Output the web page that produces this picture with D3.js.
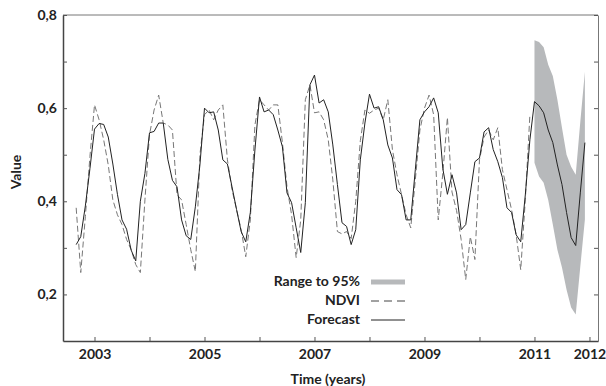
<!DOCTYPE html>
<html>
<head>
<meta charset="utf-8">
<script src="https://cdn.jsdelivr.net/npm/d3@7"></script>
<style>
  body { margin: 0; background: #fff; }
  svg text { font-family: Lato, "Open Sans", sans-serif; font-weight: 700; fill: #222; }
</style>
</head>
<body>
<div id="chart"></div>
<script>
// monthly series, first value = Sep 2002
const ndviStart = 2002 + 8 / 12;
const ndvi = [
  0.386, 0.247, 0.367, 0.496, 0.607, 0.575, 0.532, 0.478, 0.403, 0.371,
  0.350, 0.318, 0.296, 0.264, 0.247, 0.403, 0.543, 0.596, 0.628, 0.568,
  0.564, 0.553, 0.414, 0.403, 0.350, 0.296, 0.249, 0.500, 0.586, 0.596,
  0.575, 0.596, 0.607, 0.489, 0.425, 0.382, 0.339, 0.281, 0.360, 0.564,
  0.618, 0.607, 0.596, 0.607, 0.607, 0.526, 0.431, 0.371, 0.279, 0.360,
  0.618, 0.650, 0.590, 0.592, 0.575, 0.532, 0.446, 0.335, 0.330, 0.335,
  0.320, 0.400, 0.530, 0.596, 0.589, 0.596, 0.600, 0.575, 0.618, 0.511,
  0.457, 0.414, 0.371, 0.343, 0.446, 0.553, 0.600, 0.628, 0.586, 0.360,
  0.460, 0.580, 0.420, 0.380, 0.318, 0.232, 0.324, 0.275, 0.489, 0.538,
  0.553, 0.532, 0.558, 0.468, 0.425, 0.382, 0.328, 0.253, 0.403, 0.586
];
const fitted = [
  0.307, 0.324, 0.390, 0.470, 0.555, 0.567, 0.565, 0.538, 0.480, 0.415,
  0.360, 0.340, 0.295, 0.272, 0.400, 0.460, 0.547, 0.550, 0.568, 0.568,
  0.490, 0.445, 0.431, 0.360, 0.326, 0.318, 0.388, 0.478, 0.600, 0.590,
  0.592, 0.553, 0.489, 0.480, 0.431, 0.382, 0.335, 0.313, 0.376, 0.510,
  0.624, 0.592, 0.596, 0.586, 0.553, 0.517, 0.418, 0.397, 0.343, 0.290,
  0.397, 0.650, 0.671, 0.611, 0.618, 0.592, 0.521, 0.436, 0.354, 0.346,
  0.307, 0.339, 0.489, 0.568, 0.630, 0.600, 0.603, 0.575, 0.521, 0.493,
  0.425, 0.414, 0.360, 0.360, 0.468, 0.575, 0.592, 0.603, 0.622, 0.590,
  0.470, 0.415, 0.457, 0.418, 0.339, 0.350, 0.418, 0.485, 0.493, 0.549,
  0.558, 0.511, 0.485, 0.451, 0.386, 0.376, 0.328, 0.313, 0.414, 0.532
];

// forecast from Jan 2011
const forecastStart = 2011;
const forecast = [0.614, 0.605, 0.590, 0.553, 0.526, 0.478, 0.436, 0.376, 0.322, 0.305, 0.418, 0.526];
const upper95 = [0.746, 0.742, 0.731, 0.693, 0.669, 0.618, 0.558, 0.500, 0.474, 0.457, 0.571, 0.678];
const lower95 = [0.483, 0.453, 0.440, 0.403, 0.350, 0.296, 0.258, 0.210, 0.172, 0.157, 0.260, 0.361];

const yTicks = [0.2, 0.3, 0.4, 0.5, 0.6, 0.7, 0.8];
const yLabels = [0.2, 0.4, 0.6, 0.8];
const xTicks = [2003, 2004, 2005, 2006, 2007, 2008, 2009, 2010, 2011, 2012];
const xLabels = [2003, 2005, 2007, 2009, 2011, 2012];
const legendItems = ["Range to 95%", "NDVI", "Forecast"];

const width = 606, height = 386;
const mLeft = 63, mRight = 598, mTop = 15, mBottom = 341;

const svg = d3.select("#chart").append("svg")
  .attr("width", width)
  .attr("height", height);

const x = d3.scaleLinear().domain([2002.427, 2012.155]).range([mLeft, mRight]);
const y = d3.scaleLinear().domain([0.1, 0.8]).range([mBottom, mTop]);

const comma = d3.formatLocale({ decimal: ",", thousands: ".", grouping: [3], currency: ["", ""] }).format(".1f");

const ndviPts = ndvi.map((v, i) => [ndviStart + i / 12, v]);
const fitPts = fitted.map((v, i) => [ndviStart + i / 12, v]);
const fcPts = forecast.map((v, i) => [forecastStart + i / 12, v]);
const band = upper95.map((u, i) => ({ t: forecastStart + i / 12, hi: u, lo: lower95[i] }));

// 95% band
svg.append("path")
  .datum(band)
  .attr("fill", "#b7b9bb")
  .attr("d", d3.area().x(d => x(d.t)).y0(d => y(d.lo)).y1(d => y(d.hi)));

const line = d3.line().x(d => x(d[0])).y(d => y(d[1]));

svg.append("path")
  .datum(ndviPts)
  .attr("fill", "none")
  .attr("stroke", "#777")
  .attr("stroke-width", 1)
  .attr("stroke-dasharray", "6,3")
  .attr("d", line);

svg.append("path")
  .datum(fitPts.concat(fcPts))
  .attr("fill", "none")
  .attr("stroke", "#222")
  .attr("stroke-width", 1)
  .attr("d", line);

// frame
svg.append("line").attr("x1", mLeft).attr("x2", mRight).attr("y1", mTop).attr("y2", mTop)
  .attr("stroke", "#777").attr("stroke-width", 1);

const yAxis = d3.axisLeft(y)
  .tickValues(yTicks)
  .tickSizeInner(-4)
  .tickSizeOuter(0)
  .tickPadding(6)
  .tickFormat(d => yLabels.some(l => Math.abs(l - d) < 1e-9) ? comma(d) : "");

svg.append("g")
  .attr("class", "y axis")
  .attr("transform", "translate(" + mLeft + ",0)")
  .call(yAxis);

svg.append("g")
  .attr("class", "y2 axis")
  .attr("transform", "translate(" + mRight + ",0)")
  .call(d3.axisRight(y).tickValues(yTicks).tickSizeInner(-4).tickSizeOuter(0).tickFormat(""));

const xAxis = d3.axisBottom(x)
  .tickValues(xTicks)
  .tickSizeInner(-4)
  .tickSizeOuter(0)
  .tickPadding(8)
  .tickFormat(d => xLabels.includes(d) ? String(d) : "");

svg.append("g")
  .attr("class", "x axis")
  .attr("transform", "translate(0," + mBottom + ")")
  .call(xAxis);

svg.selectAll(".axis path.domain").attr("stroke", "#444").attr("stroke-width", 1.5);
svg.selectAll(".y2.axis path.domain").attr("stroke", "#777").attr("stroke-width", 1);
svg.selectAll(".axis line").attr("stroke", "#555");
svg.selectAll(".axis text")
  .style("font-family", "Lato, 'Open Sans', sans-serif")
  .style("font-weight", 700)
  .style("font-size", "14px")
  .attr("fill", "#222");

// axis titles
svg.append("text")
  .attr("transform", "translate(21,172) rotate(-90)")
  .attr("text-anchor", "middle")
  .style("font-size", "14px")
  .text("Value");

svg.append("text")
  .attr("x", 328)
  .attr("y", 384)
  .attr("text-anchor", "middle")
  .style("font-size", "14px")
  .text("Time (years)");

// legend
const legend = svg.append("g").attr("transform", "translate(360,286)");
legendItems.forEach((name, i) => {
  const g = legend.append("g").attr("transform", "translate(0," + i * 19 + ")");
  g.append("text")
    .attr("text-anchor", "end")
    .style("font-size", "14px")
    .text(name);
  if (i === 0) {
    g.append("rect").attr("x", 11).attr("y", -6.5).attr("width", 34).attr("height", 5).attr("fill", "#b7b9bb");
  } else {
    g.append("line").attr("x1", 11).attr("x2", 45).attr("y1", -4).attr("y2", -4)
      .attr("stroke", i === 1 ? "#444" : "#222")
      .attr("stroke-width", 1)
      .attr("stroke-dasharray", i === 1 ? "8,5" : null);
  }
});
</script>
</body>
</html>
